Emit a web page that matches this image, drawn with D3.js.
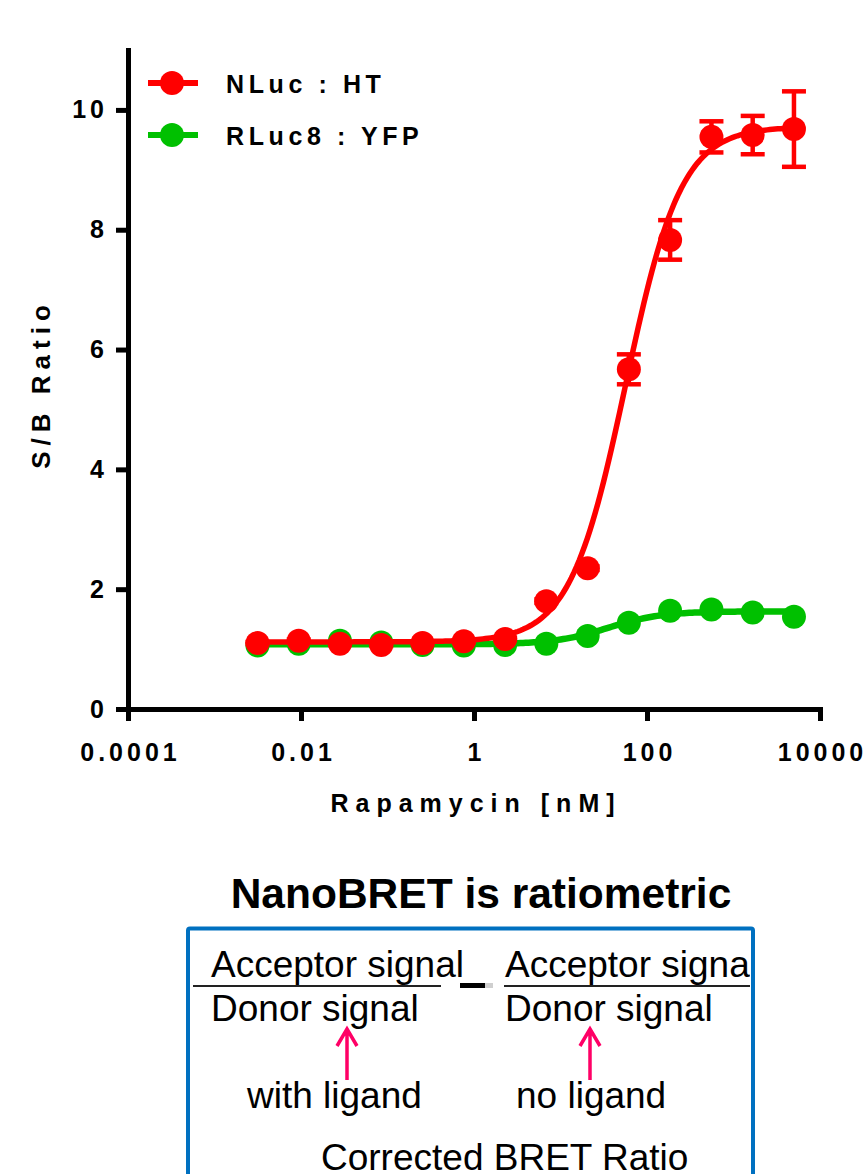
<!DOCTYPE html>
<html>
<head>
<meta charset="utf-8">
<script src="https://cdn.jsdelivr.net/npm/d3@7"></script>
<style>
  body { margin: 0; background: #fff; }
  svg text { font-family: "Liberation Sans", Arial, sans-serif; }
</style>
</head>
<body>
<svg id="chart" width="863" height="1174"></svg>
<script>
// rapamycin concentrations (nM), 3-fold dilution series
const conc = [0.00314, 0.00941, 0.0282, 0.0847, 0.254, 0.762, 2.29, 6.86, 20.6, 61.7, 185, 556, 1667, 5000];
// NLuc : HT mean and SD
const nlucMean = [1.10, 1.14, 1.09, 1.07, 1.10, 1.13, 1.17, 1.80, 2.35, 5.67, 7.83, 9.55, 9.58, 9.68];
const nlucSd = [0.02, 0.02, 0.02, 0.02, 0.02, 0.02, 0.02, 0.03, 0.03, 0.25, 0.33, 0.26, 0.32, 0.63];
// RLuc8 : YFP mean
const rlucMean = [1.06, 1.09, 1.14, 1.11, 1.07, 1.06, 1.07, 1.09, 1.22, 1.44, 1.64, 1.66, 1.61, 1.54];
// four-parameter fits [bottom, top, logEC50, hill]
const nlucFit = [1.12, 9.72, 1.754, 1.35];
const rlucFit = [1.08, 1.63, 1.55, 1.4];

const xTicks = [1e-4, 1e-2, 1, 100, 1e4];
const xTickLabels = ['0.0001', '0.01', '1', '100', '10000'];
const yTicks = [0, 2, 4, 6, 8, 10];
const seriesNames = ['NLuc : HT', 'RLuc8 : YFP'];
const seriesColors = ['#ff0000', '#00c000'];

const svg = d3.select('#chart');

const x = d3.scaleLog()
  .domain([1e-4, 1e4])
  .range([128, 820]);

const y = d3.scaleLinear()
  .domain([0, 11])
  .range([709, 50]);

// axes
const xAxis = svg.append('g')
  .attr('transform', 'translate(0,709)')
  .call(d3.axisBottom(x)
    .tickValues(xTicks)
    .tickFormat((d, i) => xTickLabels[i])
    .tickSize(12)
    .tickSizeOuter(0)
    .tickPadding(22));

const yAxis = svg.append('g')
  .attr('transform', 'translate(128,0)')
  .call(d3.axisLeft(y)
    .tickValues(yTicks)
    .tickFormat(d3.format('d'))
    .tickSize(12)
    .tickSizeOuter(0)
    .tickPadding(12));

[xAxis, yAxis].forEach((ax) => {
  ax.select('.domain')
    .attr('stroke', '#000')
    .attr('stroke-width', 5)
    .attr('stroke-linecap', 'square');
  ax.selectAll('.tick line')
    .attr('stroke', '#000')
    .attr('stroke-width', 5);
  ax.selectAll('.tick text')
    .attr('fill', '#000')
    .style('font-size', '25px')
    .style('font-weight', 'bold')
    .style('letter-spacing', '4px');
});
xAxis.selectAll('.tick text').attr('dx', '2px');
yAxis.selectAll('.tick text').attr('dx', '4px');

svg.append('text')
  .attr('x', 476)
  .attr('y', 812)
  .attr('text-anchor', 'middle')
  .style('font-size', '25px')
  .style('font-weight', 'bold')
  .style('letter-spacing', '7px')
  .text('Rapamycin [nM]');

svg.append('text')
  .attr('transform', 'translate(50,384) rotate(-90)')
  .attr('text-anchor', 'middle')
  .style('font-size', '26px')
  .style('font-weight', 'bold')
  .style('letter-spacing', '6px')
  .text('S/B Ratio');

// fitted curves
function fitCurve(p) {
  const lo = Math.log10(conc[0]);
  const hi = Math.log10(conc[conc.length - 1]);
  return d3.range(0, 201).map((i) => {
    const lx = lo + (hi - lo) * i / 200;
    return [lx, p[0] + (p[1] - p[0]) / (1 + Math.pow(10, (p[2] - lx) * p[3]))];
  });
}

const line = d3.line()
  .x(d => x(Math.pow(10, d[0])))
  .y(d => y(d[1]));

// green series first so red sits on top
svg.append('path')
  .attr('d', line(fitCurve(rlucFit)))
  .attr('fill', 'none')
  .attr('stroke', seriesColors[1])
  .attr('stroke-width', 6.5);

svg.append('g')
  .selectAll('circle')
  .data(rlucMean)
  .enter()
  .append('circle')
  .attr('cx', (d, i) => x(conc[i]))
  .attr('cy', d => y(d))
  .attr('r', 12)
  .attr('fill', seriesColors[1]);

svg.append('path')
  .attr('d', line(fitCurve(nlucFit)))
  .attr('fill', 'none')
  .attr('stroke', seriesColors[0])
  .attr('stroke-width', 5.5);

const err = svg.append('g')
  .attr('stroke', seriesColors[0])
  .attr('stroke-width', 4.5);

err.selectAll('.bar')
  .data(nlucMean)
  .enter()
  .append('line')
  .attr('x1', (d, i) => x(conc[i]))
  .attr('x2', (d, i) => x(conc[i]))
  .attr('y1', (d, i) => y(d + nlucSd[i]))
  .attr('y2', (d, i) => y(d - nlucSd[i]));

[1, -1].forEach((sign) => {
  err.selectAll(null)
    .data(nlucMean)
    .enter()
    .append('line')
    .attr('x1', (d, i) => x(conc[i]) - 12)
    .attr('x2', (d, i) => x(conc[i]) + 12)
    .attr('y1', (d, i) => y(d + sign * nlucSd[i]))
    .attr('y2', (d, i) => y(d + sign * nlucSd[i]));
});

svg.append('g')
  .selectAll('circle')
  .data(nlucMean)
  .enter()
  .append('circle')
  .attr('cx', (d, i) => x(conc[i]))
  .attr('cy', d => y(d))
  .attr('r', 12)
  .attr('fill', seriesColors[0]);

// legend
const legend = svg.append('g')
  .selectAll('g')
  .data(seriesNames)
  .enter()
  .append('g')
  .attr('transform', (d, i) => `translate(0,${83 + i * 52})`);

legend.append('line')
  .attr('x1', 148)
  .attr('x2', 198)
  .attr('stroke', (d, i) => seriesColors[i])
  .attr('stroke-width', 6);

legend.append('circle')
  .attr('cx', 172)
  .attr('r', 12)
  .attr('fill', (d, i) => seriesColors[i]);

legend.append('text')
  .attr('x', 226)
  .attr('y', 10)
  .style('font-size', '25px')
  .style('font-weight', 'bold')
  .style('letter-spacing', '4.6px')
  .text(d => d);

// lower panel
svg.append('text')
  .attr('x', 481)
  .attr('y', 908)
  .attr('text-anchor', 'middle')
  .style('font-size', '42.5px')
  .style('font-weight', 'bold')
  .text('NanoBRET is ratiometric');

svg.append('clipPath')
  .attr('id', 'box-clip')
  .append('rect')
  .attr('x', 190)
  .attr('y', 930)
  .attr('width', 560)
  .attr('height', 260);

const box = svg.append('g').attr('clip-path', 'url(#box-clip)');

const boxText = [
  { t: 'Acceptor signal', x: 211, y: 977 },
  { t: 'Donor signal', x: 211, y: 1021 },
  { t: 'Acceptor signal', x: 505, y: 977 },
  { t: 'Donor signal', x: 505, y: 1021 },
  { t: 'with ligand', x: 247, y: 1108 },
  { t: 'no ligand', x: 516, y: 1108 },
  { t: 'Corrected BRET Ratio', x: 321, y: 1170 },
];

box.selectAll('text')
  .data(boxText)
  .enter()
  .append('text')
  .attr('x', d => d.x)
  .attr('y', d => d.y)
  .style('font-size', '37px')
  .attr('fill', '#000')
  .text(d => d.t);

box.selectAll('.rule')
  .data([[193, 441], [504, 752]])
  .enter()
  .append('line')
  .attr('x1', d => d[0])
  .attr('x2', d => d[1])
  .attr('y1', 986)
  .attr('y2', 986)
  .attr('stroke', '#222')
  .attr('stroke-width', 2);

svg.append('rect')
  .attr('x', 460).attr('y', 983)
  .attr('width', 25).attr('height', 5)
  .attr('fill', '#000');
svg.append('rect')
  .attr('x', 485).attr('y', 983)
  .attr('width', 8).attr('height', 5)
  .attr('fill', '#cfcfcf');

[347, 590].forEach((ax) => {
  svg.append('path')
    .attr('d', `M${ax},1080V1029M${ax - 10},1046L${ax},1029L${ax + 10},1046`)
    .attr('fill', 'none')
    .attr('stroke', '#ff0066')
    .attr('stroke-width', 3.5);
});

svg.append('rect')
  .attr('x', 188)
  .attr('y', 928.5)
  .attr('width', 565)
  .attr('height', 300)
  .attr('rx', 2)
  .attr('fill', 'none')
  .attr('stroke', '#0070c0')
  .attr('stroke-width', 4);
</script>
</body>
</html>
